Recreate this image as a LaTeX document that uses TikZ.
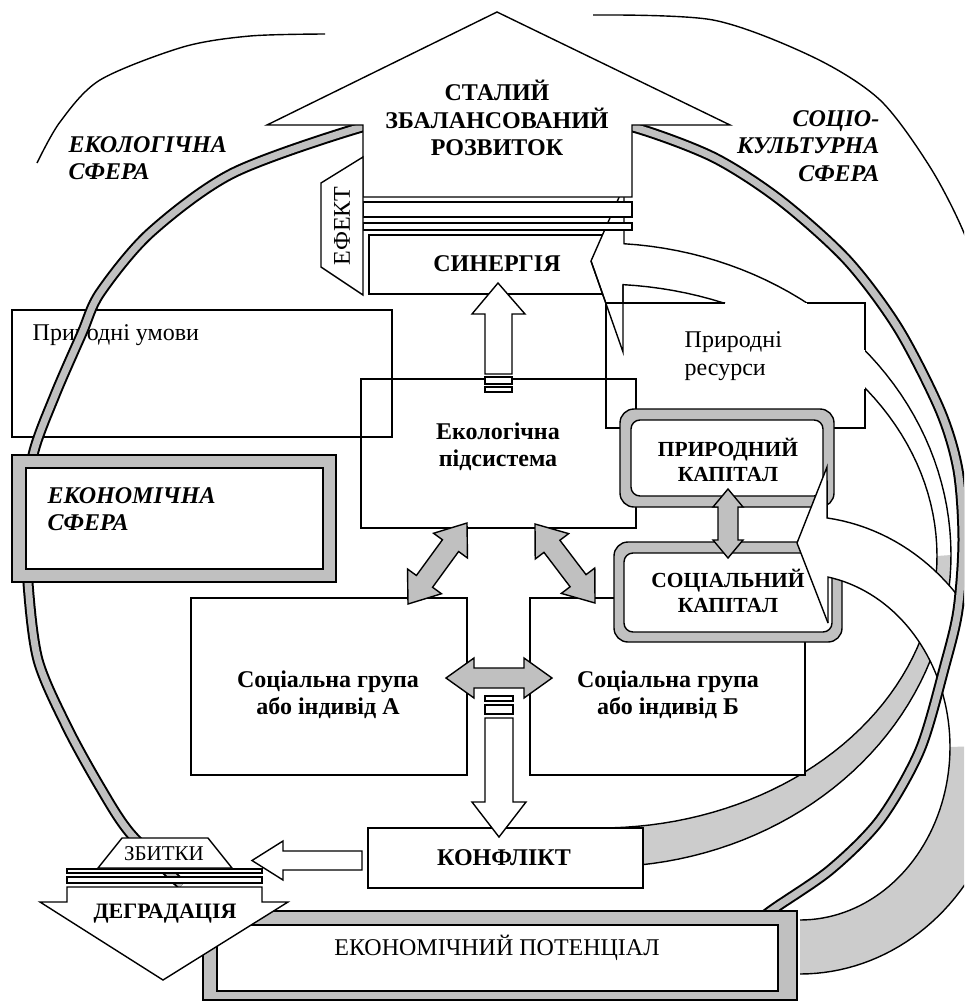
\documentclass[tikz,border=0pt]{standalone}
\usepackage{fontspec}
\setmainfont{Liberation Serif}
\usetikzlibrary{calc}
\definecolor{bandgrey}{HTML}{C0C0C0}
\definecolor{backgrey}{HTML}{CCCCCC}

\tikzset{
  lbl/.style={inner sep=0pt, align=center, font=\fontsize{24}{27.5}\selectfont},
  blbl/.style={lbl, font=\fontsize{24}{27.5}\selectfont\bfseries},
  sblbl/.style={lbl, font=\fontsize{21.5}{25}\selectfont\bfseries},
  ilbl/.style={lbl, font=\fontsize{24}{27.5}\selectfont\bfseries\itshape},
  frame/.style={draw, inner sep=0pt},
  whitebox/.style={frame, fill=white},
  blockarrow/.style={draw, fill=white},
  greyarrow/.style={draw, fill=bandgrey},
}

% grey band with black rims
\newcommand\ring[1]{%
  \draw[line width=11pt] plot[smooth] coordinates {#1};
  \draw[bandgrey, line width=7pt] plot[smooth] coordinates {#1};}

% grey two-headed block arrow: ends, head length, head half width, shaft half width
\newcommand\twoway[5]{%
  \path ($(#1)!#3pt!(#2)$) coordinate (hA) ($(#2)!#3pt!(#1)$) coordinate (hB);
  \draw[greyarrow] (#1) -- ($(hA)!#4pt!90:(#2)$) -- ($(hA)!#5pt!90:(#2)$)
    -- ($(hB)!#5pt!-90:(#1)$) -- ($(hB)!#4pt!-90:(#1)$) -- (#2)
    -- ($(hB)!#4pt!90:(#1)$) -- ($(hB)!#5pt!90:(#1)$)
    -- ($(hA)!#5pt!-90:(#2)$) -- ($(hA)!#4pt!-90:(#2)$) -- cycle;}

\begin{document}
\begin{tikzpicture}[x=1pt, y=-1pt, line width=1.4pt]
  \useasboundingbox (0,0) rectangle (964,1001);
  \clip (0,0) rectangle (964,1001);

  % outer arcs
  \draw plot[smooth] coordinates {(37,163) (60,122) (100,80) (183,47) (250,36) (325,34)};
  \draw plot[smooth] coordinates {(593,15) (713,20) (813,57) (880,100) (930,167) (964,233) (985,300)};

  % synergy
  \node[whitebox, minimum width=251, minimum height=59] (syn) at (494.5,264.5) {};
  \node[blbl] (syntext) at (497,264) {СИНЕРГІЯ};

  % curved arrow to synergy
  \fill[white] (591,261) -- (624,186) -- (624,243)
    -- plot[domain=86.08:0, samples=40] ({600+351*cos(\x)},{555-312*sin(\x)})
    -- plot[domain=0:86.09, samples=40] ({600+337*cos(\x)},{556-272*sin(\x)})
    -- (623,352) -- cycle;
  \fill[backgrey] plot[domain=0:-88, samples=40] ({600+351*cos(\x)},{555-312*sin(\x)})
    -- plot[domain=-88:0, samples=40] ({600+337*cos(\x)},{556-272*sin(\x)}) -- cycle;
  \draw (623,352) -- (591,261) -- (624,186)
    -- plot[domain=86.08:-88, samples=80] ({600+351*cos(\x)},{555-312*sin(\x)});
  \draw (623,352) -- plot[domain=86.09:-88, samples=80] ({600+337*cos(\x)},{556-272*sin(\x)});

  % natural resources
  \fill[white] (606,303) rectangle (865,428);
  \draw (606,303) -- (725,303);
  \draw (807,303) -- (865,303) -- (865,350);
  \draw (865,389) -- (865,428) -- (606,428) -- (606,303);
  \draw (623,284.6) -- (623,352) -- (591,261);
  \node[lbl, align=left, anchor=west] (restext) at (684,356) {Природні\\ресурси};

  % natural conditions, ecological subsystem
  \node[frame, minimum width=380, minimum height=127] (umovy) at (202,373.5) {};
  \node[lbl, anchor=west] (umovytext) at (32,335) {Природні умови};
  \node[frame, minimum width=275, minimum height=149] (ekol) at (498.5,453.5) {};
  \node[blbl] (ekoltext) at (498,447) {Екологічна\\підсистема};

  % social groups
  \node[whitebox, minimum width=276, minimum height=177] (grA) at (329,686.5) {};
  \node[blbl] (grAtext) at (328,695) {Соціальна група\\або індивід А};
  \node[whitebox, minimum width=275, minimum height=177] (grB) at (667.5,686.5) {};
  \node[blbl] (grBtext) at (668,695) {Соціальна група\\або індивід Б};

  % capitals
  \draw[fill=bandgrey, rounded corners=14] (620,409) rectangle (834,507);
  \draw[fill=white, rounded corners=9] (631,420) rectangle (823,496);
  \node[sblbl] (natcap) at (728,460) {ПРИРОДНИЙ\\КАПІТАЛ};
  \draw[fill=bandgrey, rounded corners=14] (614,542) rectangle (842,642);
  \draw[fill=white, rounded corners=9] (624,553) rectangle (832,632);
  \node[sblbl] (soccap) at (728,591) {СОЦІАЛЬНИЙ\\КАПІТАЛ};
  \coordinate (capN) at (728,489);
  \coordinate (capS) at (728,558);
  \twoway{capN}{capS}{18}{15}{10}

  % curved arrow to social capital
  \fill[white] (797,543) -- (827,467) -- (827,517)
    -- plot[domain=82.5:0, samples=40] ({800+208*cos(\x)},{745-229*sin(\x)})
    -- plot[domain=0:79.24, samples=40] ({800+150*cos(\x)},{747-173*sin(\x)})
    -- (828,623) -- cycle;
  \fill[backgrey] plot[domain=0:-90, samples=40] ({800+208*cos(\x)},{745-229*sin(\x)})
    -- plot[domain=-90:0, samples=40] ({800+150*cos(\x)},{747-173*sin(\x)}) -- cycle;
  \draw (828,623) -- (797,543) -- (827,467)
    -- plot[domain=82.5:-90, samples=80] ({800+208*cos(\x)},{745-229*sin(\x)});
  \draw (828,623) -- plot[domain=79.24:-90, samples=80] ({800+150*cos(\x)},{747-173*sin(\x)});

  % spheres ring
  \ring{(420,119) (362,127) (233,173) (150,233) (100,293) (82,333) (55,395) (33,455) (27,520) (28,583) (38,660) (67,727) (100,787) (130,833) (182,885)}
  \ring{(575,119) (633,127) (713,157) (780,200) (847,260) (898,328) (940,410) (958,470) (963,540) (958,610) (945,665) (920,750) (880,820) (830,870) (772,910) (740,935)}

  % economic sphere
  \draw[fill=bandgrey] (12,455) rectangle (336,582);
  \draw[fill=white] (26,468) rectangle (323,569);
  \node[ilbl, align=left, anchor=west] (econsph) at (47,509) {ЕКОНОМІЧНА\\СФЕРА};

  % economic potential
  \draw[fill=bandgrey] (203,911) rectangle (797,1000);
  \draw[fill=white] (217,925) rectangle (778,991);
  \node[lbl] (potential) at (497,948) {ЕКОНОМІЧНИЙ ПОТЕНЦІАЛ};

  % conflict
  \node[whitebox, minimum width=275, minimum height=60] (conflict) at (505.5,858) {};
  \node[blbl] (conftext) at (504,858) {КОНФЛІКТ};

  % sustainable development
  \draw[blockarrow] (497,12) -- (730,125) -- (632,125) -- (632,197) -- (363,197)
    -- (363,125) -- (267,125) -- cycle;
  \draw[blockarrow] (363,202) rectangle (632,217);
  \draw[blockarrow] (363,223) rectangle (632,230);
  \draw[blockarrow] (363,157) -- (321,183) -- (321,267) -- (363,295) -- cycle;
  \node[lbl, rotate=90] (effect) at (342,226) {ЕФЕКТ};
  \node[blbl] (goaltext) at (497,118) {СТАЛИЙ\\ЗБАЛАНСОВАНИЙ\\РОЗВИТОК};

  % spheres
  \node[ilbl, align=left, anchor=west] (ecosph) at (68,158) {ЕКОЛОГІЧНА\\СФЕРА};
  \node[ilbl, align=right, anchor=east] (socsph) at (880,146) {СОЦІО-\\КУЛЬТУРНА\\СФЕРА};

  % ecological subsystem -> synergy
  \draw[blockarrow] (498,283) -- (525,314) -- (512,314) -- (512,374) -- (485,374)
    -- (485,314) -- (472,314) -- cycle;
  \draw[blockarrow] (485,377) rectangle (512,384);
  \draw[blockarrow] (485,387) rectangle (512,392);

  % interactions
  \coordinate (ekolSW) at (467,523);
  \coordinate (grAN) at (408,604);
  \coordinate (ekolSE) at (535,524);
  \coordinate (grBN) at (595,603);
  \coordinate (grAE) at (446,678);
  \coordinate (grBW) at (552,678);
  \twoway{grAN}{ekolSW}{28}{21}{10}
  \twoway{grBN}{ekolSE}{28}{21}{10}
  \twoway{grAE}{grBW}{28}{20}{10}

  % groups -> conflict
  \draw[blockarrow] (485,696) rectangle (513,701);
  \draw[blockarrow] (485,705) rectangle (513,714);
  \draw[blockarrow] (485,718) -- (513,718) -- (513,802) -- (526,802) -- (499,837)
    -- (472,802) -- (485,802) -- cycle;

  % conflict -> losses
  \draw[blockarrow] (362,851) -- (362,870) -- (283,870) -- (283,880) -- (252,860.5)
    -- (283,841) -- (283,851) -- cycle;

  % degradation
  \draw[blockarrow] (67,869) rectangle (262,873);
  \draw[blockarrow] (67,877) rectangle (262,883);
  \draw[blockarrow] (67,887) -- (262,887) -- (262,902) -- (288,902) -- (163,980)
    -- (40,902) -- (67,902) -- cycle;
  \node[lbl, font=\fontsize{22}{27.5}\selectfont\bfseries] (degrtext) at (165,914) {ДЕГРАДАЦІЯ};
  \draw[blockarrow] (122,838) -- (208,838) -- (232,868) -- (98,868) -- cycle;
  \node[lbl, font=\fontsize{21}{25}\selectfont] (losstext) at (164,854) {ЗБИТКИ};
\end{tikzpicture}
\end{document}
